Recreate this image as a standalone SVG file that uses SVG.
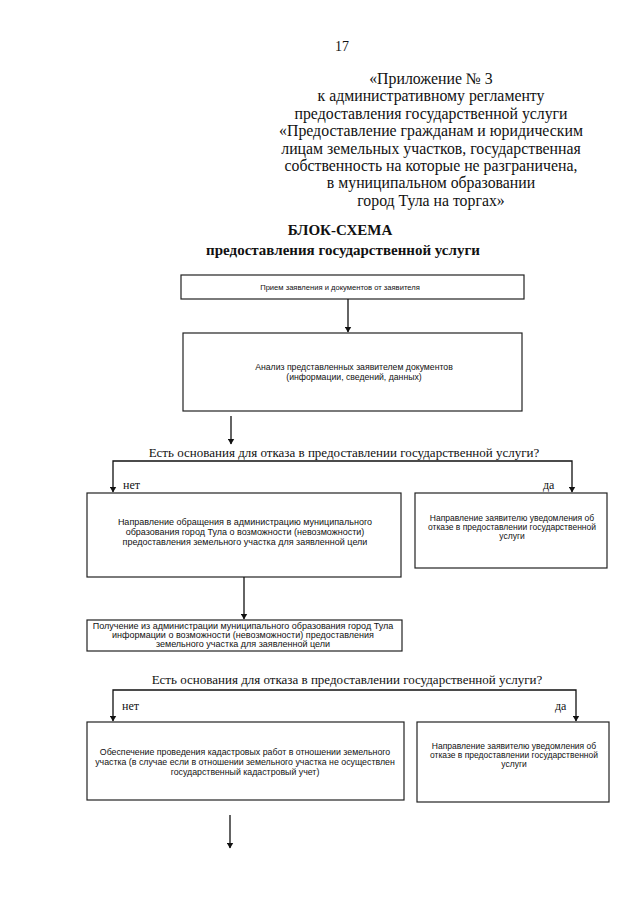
<svg xmlns="http://www.w3.org/2000/svg" width="640" height="905" viewBox="0 0 640 905">
<defs>
<marker id="ah" markerWidth="6" markerHeight="7" refX="5.5" refY="3.5" orient="auto" markerUnits="userSpaceOnUse">
<path d="M0,0 L6,3.5 L0,7 Z" fill="#111"/>
</marker>
</defs>
<style>
.bg{fill:#fff}
.box{fill:#fff;stroke:#222;stroke-width:1.2}
.hd{font-family:"Liberation Serif","Times New Roman",serif;font-size:15.8px;fill:#111;text-anchor:middle}
.tt{font-family:"Liberation Serif","Times New Roman",serif;font-size:15px;font-weight:bold;fill:#111;text-anchor:middle}
.q{font-family:"Liberation Serif","Times New Roman",serif;font-size:13px;fill:#111;text-anchor:middle}
.lb{font-family:"Liberation Serif","Times New Roman",serif;font-size:12px;fill:#111}
.bt{font-family:"Liberation Sans",Arial,sans-serif;font-size:8.5px;fill:#111;text-anchor:middle}
.bw{font-size:9px}
.cn{fill:none;stroke:#111;stroke-width:1.3}
</style>
<rect class="bg" x="0" y="0" width="640" height="905"/>
<g id="header">
<text class="hd" x="342" y="51" style="font-size:14px">17</text>
<text class="hd" x="431" y="84">«Приложение № 3</text>
<text class="hd" x="431" y="101.4">к административному регламенту</text>
<text class="hd" x="431" y="118.8">предоставления государственной услуги</text>
<text class="hd" x="431" y="136.2">«Предоставление гражданам и юридическим</text>
<text class="hd" x="431" y="153.6">лицам земельных участков, государственная</text>
<text class="hd" x="431" y="171">собственность на которые не разграничена,</text>
<text class="hd" x="431" y="188.4">в муниципальном образовании</text>
<text class="hd" x="431" y="205.8">город Тула на торгах»</text>
</g>
<g id="title">
<text class="tt" x="340" y="235">БЛОК-СХЕМА</text>
<text class="tt" x="343" y="255">предоставления государственной услуги</text>
</g>
<g id="n1">
<rect class="box" x="181" y="275" width="343" height="24"/>
<text class="bt" x="340" y="290" style="font-size:7.6px">Прием заявления и документов от заявителя</text>
</g>
<g id="n2">
<rect class="box" x="183" y="333" width="339" height="78"/>
<text class="bt" x="354" y="370" style="font-size:8.7px">Анализ представленных заявителем документов</text>
<text class="bt" x="354" y="380" style="font-size:8.7px">(информации, сведений, данных)</text>
</g>
<g id="q1">
<text class="q" x="344" y="456.5">Есть основания для отказа в предоставлении государственной услуги?</text>
<text class="lb" x="123" y="489">нет</text>
<text class="lb" x="543" y="489">да</text>
</g>
<g id="n3">
<rect class="box" x="87" y="493" width="314" height="84"/>
<text class="bt bw" x="245" y="525">Направление обращения в администрацию муниципального</text>
<text class="bt bw" x="245" y="535">образования город Тула о возможности (невозможности)</text>
<text class="bt bw" x="245" y="545">предоставления земельного участка для заявленной цели</text>
</g>
<g id="n4">
<rect class="box" x="415" y="493" width="192" height="75"/>
<text class="bt" x="512" y="521">Направление заявителю уведомления об</text>
<text class="bt" x="512" y="530">отказе в предоставлении государственной</text>
<text class="bt" x="512" y="539">услуги</text>
</g>
<g id="n5">
<rect class="box" x="87" y="620" width="315" height="31"/>
<text class="bt bw" x="243" y="629">Получение из администрации муниципального образования город Тула</text>
<text class="bt bw" x="243" y="638">информации о возможности (невозможности) предоставления</text>
<text class="bt bw" x="243" y="647">земельного участка для заявленной цели</text>
</g>
<g id="q2">
<text class="q" x="347" y="683.5">Есть основания для отказа в предоставлении государственной услуги?</text>
<text class="lb" x="122" y="710">нет</text>
<text class="lb" x="555" y="710">да</text>
</g>
<g id="n6">
<rect class="box" x="87" y="722" width="317" height="78"/>
<text class="bt" x="245" y="755" style="font-size:8.8px">Обеспечение проведения кадастровых работ в отношении земельного</text>
<text class="bt" x="245" y="765" style="font-size:8.8px">участка (в случае если в отношении земельного участка не осуществлен</text>
<text class="bt" x="245" y="775" style="font-size:8.8px">государственный кадастровый учет)</text>
</g>
<g id="n7">
<rect class="box" x="417" y="722" width="192" height="80"/>
<text class="bt" x="514" y="749">Направление заявителю уведомления об</text>
<text class="bt" x="514" y="758">отказе в предоставлении государственной</text>
<text class="bt" x="514" y="767">услуги</text>
</g>
<g id="connectors">
<path class="cn" d="M348,299 V332" marker-end="url(#ah)"/>
<path class="cn" d="M231,416 V444" marker-end="url(#ah)"/>
<path class="cn" d="M343,461 H113 V492" marker-end="url(#ah)"/>
<path class="cn" d="M343,461 H572 V492" marker-end="url(#ah)"/>
<path class="cn" d="M244,577 V619" marker-end="url(#ah)"/>
<path class="cn" d="M345,690 H113 V721" marker-end="url(#ah)"/>
<path class="cn" d="M345,690 H576 V721" marker-end="url(#ah)"/>
<path class="cn" d="M230,815 V848" marker-end="url(#ah)"/>
</g>
</svg>
